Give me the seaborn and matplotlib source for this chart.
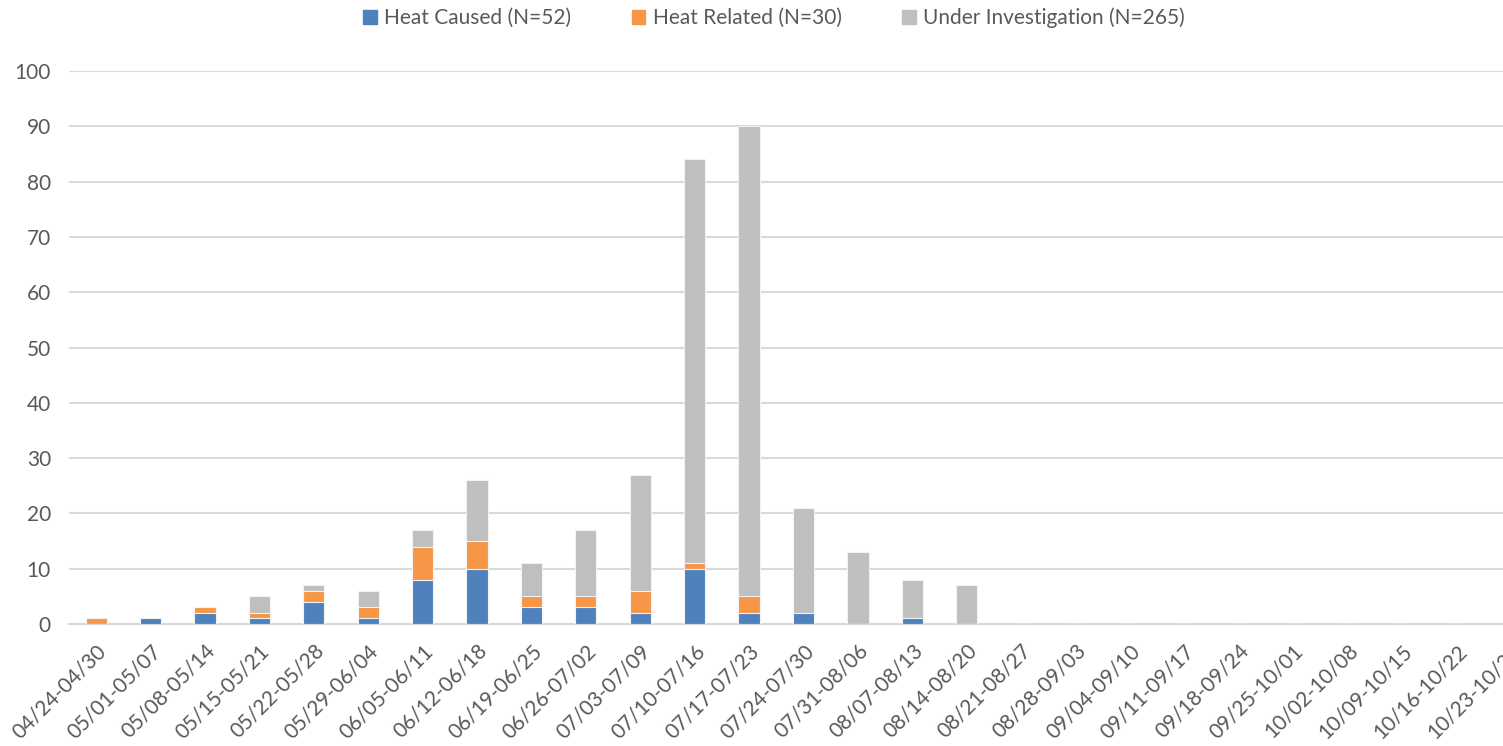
import numpy as np
import pandas as pd
import seaborn as sns
import matplotlib.pyplot as plt

# weekly counts
weeks = [
    "04/24-04/30", "05/01-05/07", "05/08-05/14", "05/15-05/21", "05/22-05/28",
    "05/29-06/04", "06/05-06/11", "06/12-06/18", "06/19-06/25", "06/26-07/02",
    "07/03-07/09", "07/10-07/16", "07/17-07/23", "07/24-07/30", "07/31-08/06",
    "08/07-08/13", "08/14-08/20", "08/21-08/27", "08/28-09/03", "09/04-09/10",
    "09/11-09/17", "09/18-09/24", "09/25-10/01", "10/02-10/08", "10/09-10/15",
    "10/16-10/22", "10/23-10/29",
]
heat_caused = [0, 1, 2, 1, 4, 1, 8, 10, 3, 3, 2, 10, 2, 2, 0, 1, 0,
               0, 0, 0, 0, 0, 0, 0, 0, 0, 0]
heat_related = [1, 0, 1, 1, 2, 2, 6, 5, 2, 2, 4, 1, 3, 0, 0, 0, 0,
                0, 0, 0, 0, 0, 0, 0, 0, 0, 0]
under_investigation = [0, 0, 0, 3, 1, 3, 3, 11, 6, 12, 21, 73, 85, 19, 13, 7, 7,
                       0, 0, 0, 0, 0, 0, 0, 0, 0, 0]
legend_labels = ["Heat Caused (N=52)", "Heat Related (N=30)", "Under Investigation (N=265)"]
colors = ["#4F81BD", "#F79646", "#BFBFBF"]

df = pd.DataFrame({
    "week": weeks,
    "hc": heat_caused,
    "hr": heat_related,
    "ui": under_investigation,
})
# 積み上げ用の累積値（上の層から重ねて描く）
df["lvl1"] = df["hc"]
df["lvl2"] = df["hc"] + df["hr"]
df["lvl3"] = df["lvl2"] + df["ui"]

sns.set_style("white")
plt.rcParams["font.family"] = ["Lato", "DejaVu Sans"]
text_color = "#595959"
grid_color = "#D9D9D9"

fig = plt.figure(figsize=(15.03, 7.46), dpi=100)
# 右端は元図と同じく画像の外まで伸ばす
ax = fig.add_axes([69 / 1503, 122 / 746, 1469 / 1503, 553 / 746])

for col, color in zip(["lvl3", "lvl2", "lvl1"], colors[::-1]):
    sns.barplot(data=df, x="week", y=col, order=weeks, color=color,
                width=0.39, edgecolor="#F2F2F2", linewidth=0.8,
                saturation=1, ax=ax, zorder=3)

ax.set_ylim(0, 100)
ax.set_yticks(np.arange(0, 101, 10))
ax.yaxis.grid(True, color=grid_color, linewidth=1.5, zorder=0)
ax.set_axisbelow(True)
for side in ["top", "right", "left"]:
    ax.spines[side].set_visible(False)
ax.spines["bottom"].set_color(grid_color)
ax.spines["bottom"].set_linewidth(1.5)
ax.set_xlabel("")
ax.set_ylabel("")
ax.tick_params(axis="both", length=0, labelsize=15, colors=text_color)
ax.tick_params(axis="y", pad=13)
plt.setp(ax.get_xticklabels(), rotation=45, ha="right", rotation_mode="anchor")
ax.tick_params(axis="x", pad=12)

handles = [plt.Rectangle((0, 0), 1, 1, color=c) for c in colors]
fig.legend(handles, legend_labels, loc="center", bbox_to_anchor=(774 / 1503, 1 - 18 / 746),
           ncol=3, frameon=False, fontsize=15, labelcolor=text_color,
           handlelength=0.65, handleheight=0.65, handletextpad=0.35, columnspacing=2.9)

fig.savefig("out.png", dpi=100)
plt.close(fig)
